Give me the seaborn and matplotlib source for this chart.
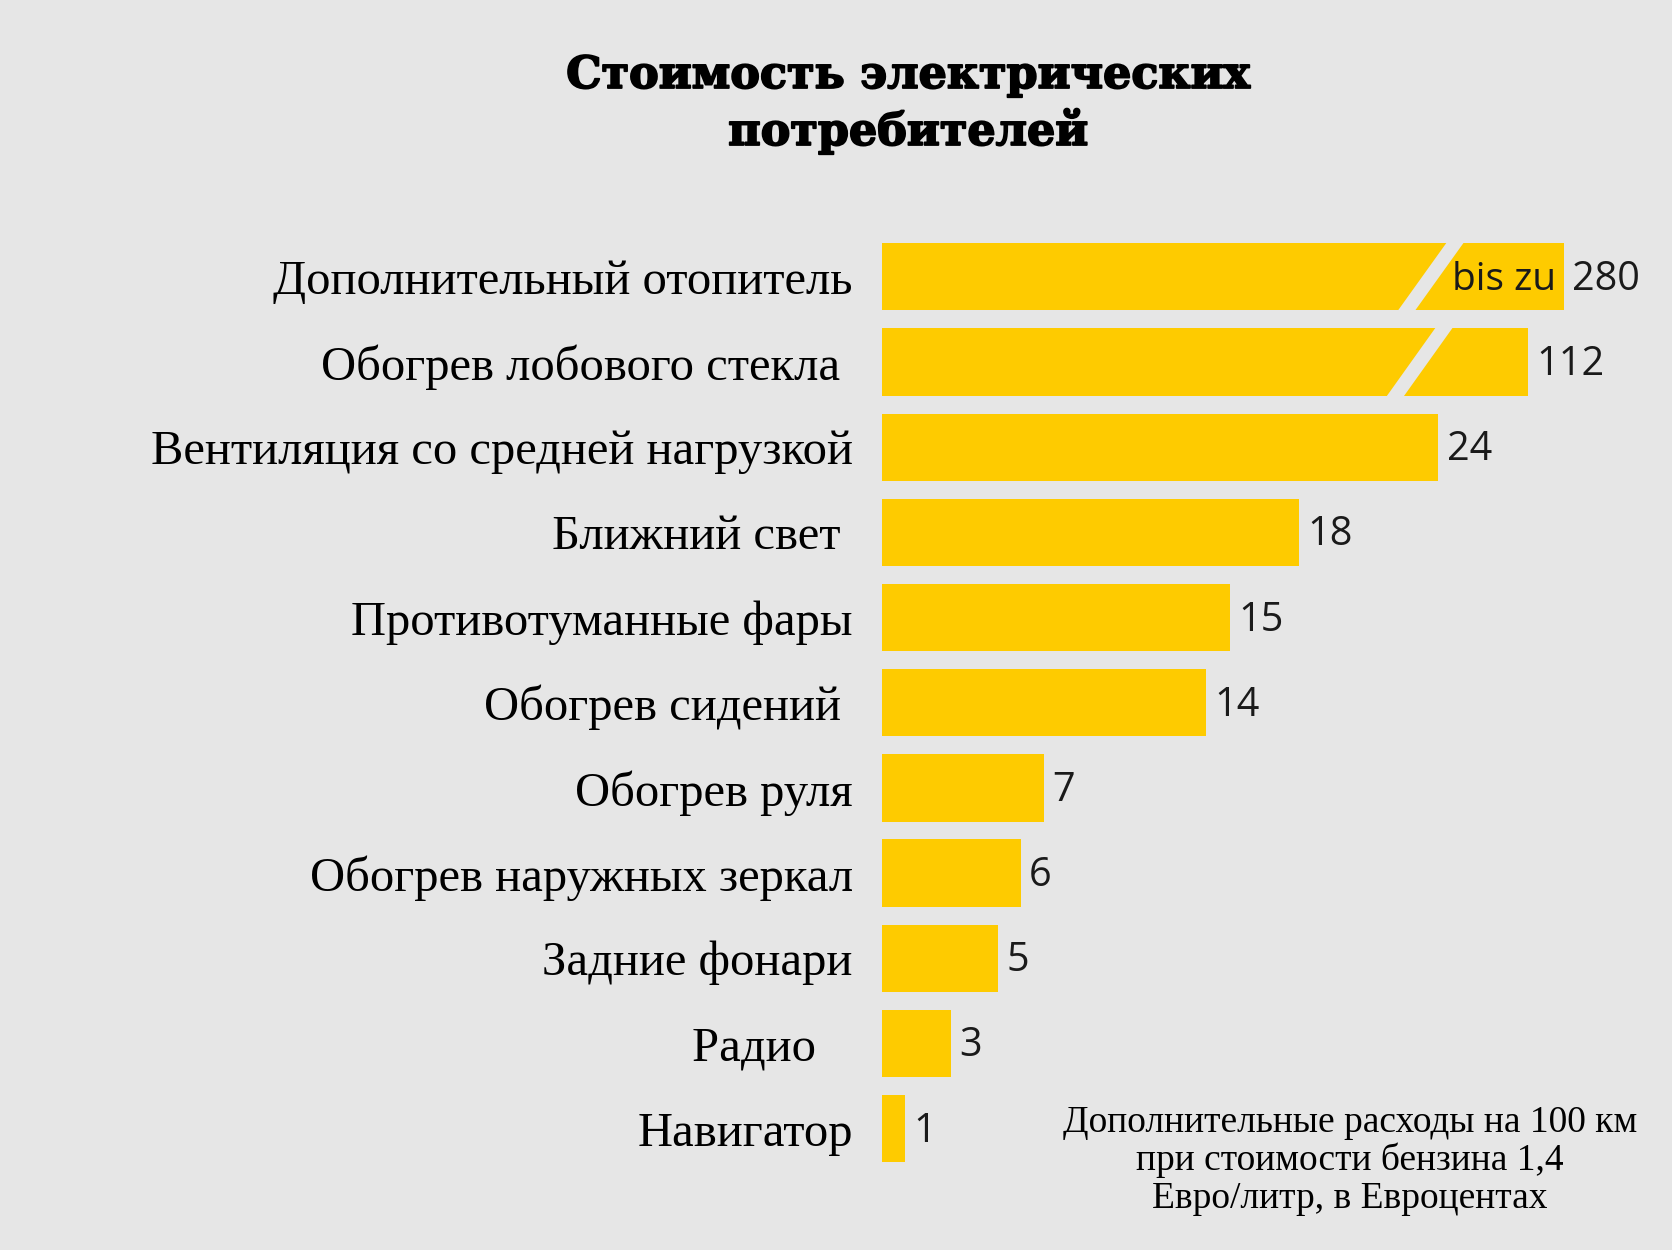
import numpy as np
import pandas as pd
import seaborn as sns
import matplotlib
matplotlib.use("Agg")
import matplotlib.pyplot as plt
import matplotlib.patheffects as pe

# данные
categories = [
    "Дополнительный отопитель",
    "Обогрев лобового стекла ",
    "Вентиляция со средней нагрузкой",
    "Ближний свет ",
    "Противотуманные фары",
    "Обогрев сидений ",
    "Обогрев руля",
    "Обогрев наружных зеркал",
    "Задние фонари",
    "Радио   ",
    "Навигатор",
]
values = [280, 112, 24, 18, 15, 14, 7, 6, 5, 3, 1]
prefixes = ["bis zu", "", "", "", "", "", "", "", "", "", ""]

bg = "#e6e6e6"
bar_color = "#fecb00"

df = pd.DataFrame({"label": categories, "value": values})

sns.set_theme(style="white")
plt.rcParams["font.family"] = ["Liberation Serif", "DejaVu Serif"]

fig = plt.figure(figsize=(16.72, 12.5), dpi=100, facecolor=bg)
ax = fig.add_axes([0.5274, 0.0631, 0.4545, 0.7495], facecolor=bg)

sns.barplot(data=df, x="value", y="label", color=bar_color, saturation=1,
            width=0.79, linewidth=0, ax=ax)

# ось с разрывом: всё выше порога сжимается логарифмически
T, C = 25.4, 1.67

def forward(x):
    x = np.asarray(x, dtype=float)
    return np.where(x <= T, x, T + C * np.log(np.maximum(x, T) / T))

def inverse(y):
    y = np.asarray(y, dtype=float)
    yy = np.clip(y, T, 200)
    return np.where(y <= T, y, T * np.exp((yy - T) / C))

ax.set_xscale("function", functions=(forward, inverse))
ax.set_xlim(0, inverse(32.78))
ax.set_ylim(len(categories) - 0.5, -0.5)

ax.set_xticks([])
ax.set_xlabel("")
ax.set_ylabel("")
ax.tick_params(axis="y", length=0, pad=21, labelsize=35, labelcolor="black")
for s in ax.spines.values():
    s.set_visible(False)

# подписи значений
bars = ax.containers[0]
for i, p in enumerate(bars):
    w = p.get_width()
    yc = p.get_y() + p.get_height() / 2
    ax.annotate(f"{int(w)}", (w, yc), xytext=(6, -2), textcoords="offset points",
                ha="left", va="center", fontsize=28.5, color="#1a1a1a",
                family="Open Sans", zorder=6)
    if prefixes[i]:
        ax.annotate(prefixes[i], (w, yc), xytext=(-5, -2), textcoords="offset points",
                    ha="right", va="center", fontsize=28, color="#1a1a1a",
                    family="Open Sans", zorder=6)

# косые разрывы на длинных столбцах
breaks = {0: (22.57, 24.78), 1: (22.1, 24.3)}
hw = 0.37
for i, (xb, xt) in breaks.items():
    yb, yt = i + 0.42, i - 0.42
    ax.fill([xb - hw, xb + hw, xt + hw, xt - hw], [yb, yb, yt, yt],
            color=bg, zorder=5, lw=0)

heavy = [pe.withStroke(linewidth=1.3, foreground="black")]
fig.text(0.5434, 0.9296, "Стоимость электрических", ha="center", va="baseline",
         fontsize=32, fontweight="bold", family="DejaVu Serif", color="black",
         path_effects=heavy)
fig.text(0.5434, 0.884, "потребителей", ha="center", va="baseline",
         fontsize=32, fontweight="bold", family="DejaVu Serif", color="black",
         path_effects=heavy)

fig.text(0.8074, 0.0336,
         "Дополнительные расходы на 100 км\nпри стоимости бензина 1,4\nЕвро/литр, в Евроцентах",
         ha="center", va="baseline", fontsize=27, linespacing=1.12, color="black")

fig.savefig("out.png", dpi=100, facecolor=bg)
